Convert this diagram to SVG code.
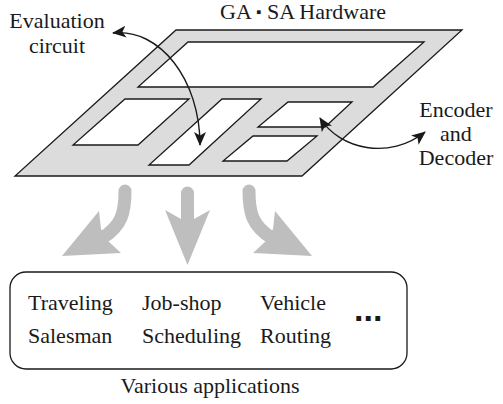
<svg xmlns="http://www.w3.org/2000/svg" width="503" height="404" viewBox="0 0 503 404">
  <style>
    .lbl { font-family: "Liberation Serif", "Times New Roman", serif; font-size: 22px; fill: #1a1a1a; }
    .plate { fill: #dcdcdc; stroke: #1a1a1a; stroke-width: 1.3; stroke-linejoin: miter; }
    .hole { fill: #ffffff; stroke: #1a1a1a; stroke-width: 1.3; }
    .link { fill: none; stroke: #1a1a1a; stroke-width: 1.4; }
    .flow-stem { fill: none; stroke: #bebebe; stroke-width: 13; stroke-linecap: round; }
    .flow-head { fill: #bebebe; }
  </style>
  <defs>
    <marker id="tip" markerUnits="userSpaceOnUse" markerWidth="16" markerHeight="14" refX="13" refY="6" orient="auto-start-reverse">
      <path d="M0,0 L14,6 L0,12 L3.5,6 Z" fill="#1a1a1a"/>
    </marker>
    <g id="flow-bent">
      <path class="flow-stem" d="M125,191 C125,212 122,226 102,238"/>
      <polygon class="flow-head" points="62,256 99,211 101,229 108,241 121,253"/>
    </g>
  </defs>

  <!-- hardware board -->
  <g id="hardware">
    <polygon class="plate" points="176,30 462,30 302,176 15,176"/>
    <polygon class="hole" points="188,42 424,42 373,87 138,87"/>
    <polygon class="hole" points="125,99 189,99 138,145 73,145"/>
    <polygon class="hole" points="222,99 261,99 189,165 149,165"/>
    <polygon class="hole" points="288,102 352,102 325,127 258,127"/>
    <polygon class="hole" points="253,136 317,136 287,161 223,161"/>
    <text class="lbl" x="220" y="19">GA <tspan font-size="15" dy="-2">▪</tspan><tspan dy="2"> SA Hardware</tspan></text>
  </g>

  <g id="evaluation-label">
    <text class="lbl" x="57" y="28" text-anchor="middle">Evaluation</text>
    <text class="lbl" x="57" y="53" text-anchor="middle">circuit</text>
  </g>

  <g id="codec-label">
    <text class="lbl" x="456" y="117" text-anchor="middle">Encoder</text>
    <text class="lbl" x="456" y="141" text-anchor="middle">and</text>
    <text class="lbl" x="456" y="165" text-anchor="middle">Decoder</text>
  </g>

  <!-- pointers -->
  <g id="connectors">
    <path class="link" d="M113,33 C160,28 200,80 200,145" marker-start="url(#tip)" marker-end="url(#tip)"/>
    <path class="link" d="M320,118 C340,150 390,160 425,132" marker-start="url(#tip)" marker-end="url(#tip)"/>

    <!-- wide grey flow arrows -->
    <use href="#flow-bent"/>
    <g>
      <path class="flow-stem" d="M187.5,193 L187.5,222"/>
      <polygon class="flow-head" points="165,210 181,219 194,219 210,210 187.5,265"/>
    </g>
    <use href="#flow-bent" transform="translate(374,0) scale(-1,1)"/>
  </g>

  <!-- applications -->
  <g id="applications">
    <rect x="10" y="272" width="397" height="97" rx="16" ry="16" fill="#ffffff" stroke="#1a1a1a" stroke-width="1.3"/>
    <text class="lbl" x="28" y="310">Traveling</text>
    <text class="lbl" x="28" y="343">Salesman</text>
    <text class="lbl" x="142" y="310">Job-shop</text>
    <text class="lbl" x="142" y="343">Scheduling</text>
    <text class="lbl" x="260" y="310">Vehicle</text>
    <text class="lbl" x="260" y="343">Routing</text>
    <text x="354" y="321" font-family="Liberation Sans, Arial, sans-serif" font-weight="bold" font-size="34" fill="#1a1a1a">...</text>
    <text class="lbl" x="210" y="393" text-anchor="middle">Various applications</text>
  </g>
</svg>
